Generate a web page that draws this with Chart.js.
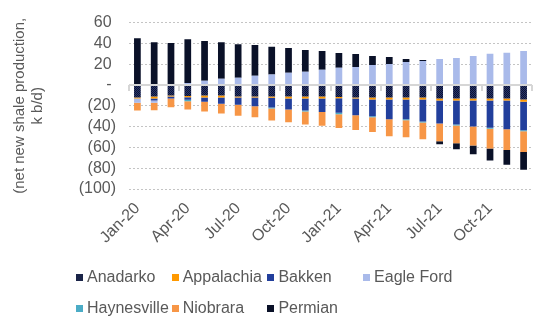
<!DOCTYPE html>
<html>
<head>
<meta charset="utf-8">
<script src="https://cdn.jsdelivr.net/npm/chart.js@4.4.1/dist/chart.umd.min.js"></script>
<style>
  body { margin: 0; background: #fff; }
  #wrap { position: relative; width: 556px; height: 334px; }
  #legend { position: absolute; left: 0; top: 0; font: 16px "Liberation Sans", Arial, sans-serif; color: #595959; }
  .item { position: absolute; display: flex; align-items: center; white-space: nowrap; height: 20px; }
  .box { width: 7px; height: 7px; margin-right: 4px; }
</style>
</head>
<body>
<div id="wrap">
  <canvas id="shaleChart" width="556" height="334"></canvas>
  <div id="legend"></div>
</div>
<script>
const months = ['Jan-20', 'Feb-20', 'Mar-20', 'Apr-20', 'May-20', 'Jun-20', 'Jul-20', 'Aug-20', 'Sep-20', 'Oct-20', 'Nov-20', 'Dec-20',
                'Jan-21', 'Feb-21', 'Mar-21', 'Apr-21', 'May-21', 'Jun-21', 'Jul-21', 'Aug-21', 'Sep-21', 'Oct-21', 'Nov-21', 'Dec-21'];

// net new shale production by basin, k b/d
const anadarko    = [-12, -11, -10, -10.5, -10, -10, -11, -11, -11, -11, -11, -11, -11.5, -12, -12, -12, -12, -12, -13, -13, -13, -13, -13, -14];
const appalachia  = [-1, -2, -1, -1.3, -2, -2, -1, -1, -1.2, -2, -2, -2, -1.3, -1, -2, -2, -2, -2, -2, -2, -2, -2, -2, -2];
const bakken      = [0, -2, -2, -2.5, -4, -6, -7, -8.5, -9.5, -10.5, -11.5, -13, -14, -16, -16, -19, -19, -21, -22, -23, -25, -26, -27.5, -27.5];
const eagleFord   = [-4, -2, 1, 2, 4, 6, 7, 9, 10, 11.7, 12.7, 14.6, 16.5, 17.4, 19.3, 20.3, 22.2, 23.1, 25, 26, 28, 30, 31, 32.7];
const haynesville = [0, 0, 0, -1.3, 0, 0, 0, 0, -1, 0, -1, 0, -1.3, 0, -1, 0, -1, -1, 0, -1, 0, -1, 0, -1];
const niobrara    = [-7.5, -7.3, -8.3, -8, -9.5, -9.5, -10.5, -10.5, -11.4, -12.4, -12.4, -13.3, -13.3, -14.3, -14.3, -16.2, -16.2, -16.2, -17.1, -17.1, -18.1, -19.1, -20, -20];
const permian     = [45, 41, 39.3, 42, 38.2, 35.2, 32.3, 29.5, 26.7, 23.8, 20.9, 18.1, 14.3, 12.4, 8.6, 6.7, 2.8, 1, -2.9, -5.7, -8.6, -11.4, -14.3, -17.1];

const yMin = -100, yMax = 60, yStep = 20;

// small checker fill for the Anadarko bars
function dotPattern() {
    const c = document.createElement('canvas');
    c.width = 2; c.height = 2;
    const g = c.getContext('2d');
    g.fillStyle = '#27346c';
    g.fillRect(0, 0, 2, 2);
    g.fillStyle = '#0c1330';
    g.fillRect(0, 0, 1, 1);
    g.fillRect(1, 1, 1, 1);
    return g.createPattern(c, 'repeat');
}

const series = [
    { label: 'Anadarko', data: anadarko, color: dotPattern(), swatch: '#1a2448' },
    { label: 'Appalachia', data: appalachia, color: '#ff9900' },
    { label: 'Bakken', data: bakken, color: '#223f9c' },
    { label: 'Eagle Ford', data: eagleFord, color: '#a9baea' },
    { label: 'Haynesville', data: haynesville, color: '#4bacc6' },
    { label: 'Niobrara', data: niobrara, color: '#f79646' },
    { label: 'Permian', data: permian, color: '#0a1128' }
];

// grey zero axis with a tick mark every quarter
const zeroAxis = {
    id: 'zeroAxis',
    afterDatasetsDraw(chart) {
        const { ctx, chartArea, scales: { x, y } } = chart;
        const y0 = Math.round(y.getPixelForValue(0));
        ctx.save();
        ctx.strokeStyle = '#d6d6d6';
        ctx.lineWidth = 2;
        ctx.beginPath();
        ctx.moveTo(chartArea.left, y0);
        ctx.lineTo(chartArea.right, y0);
        for (let k = 0; k <= months.length; k += 3) {
            const xb = Math.round(x.getPixelForValue(k - 0.5));
            ctx.moveTo(xb, y0);
            ctx.lineTo(xb, y0 + 6);
        }
        ctx.stroke();
        ctx.restore();
    }
};

const ctx = document.getElementById('shaleChart').getContext('2d');
const shaleChart = new Chart(ctx, {
    type: 'bar',
    data: {
        labels: months,
        datasets: series.map(s => ({
            label: s.label,
            data: s.data,
            backgroundColor: s.color,
            borderWidth: 0,
            barPercentage: 0.4,
            categoryPercentage: 1,
            stack: 'basins'
        }))
    },
    options: {
        responsive: false,
        animation: false,
        layout: { padding: { top: 22, right: 24, bottom: 0, left: 0 } },
        plugins: {
            legend: { display: false },
            tooltip: { enabled: false }
        },
        scales: {
            x: {
                stacked: true,
                grid: { display: false },
                border: { display: false },
                ticks: {
                    autoSkip: false,
                    minRotation: 45,
                    maxRotation: 45,
                    padding: 2,
                    color: '#595959',
                    font: { family: '"Liberation Sans", Arial, sans-serif', size: 16 },
                    callback: (v, i) => (i % 3 === 0 ? months[i] : '')
                },
                afterFit: s => { s.height = 145; }
            },
            y: {
                stacked: true,
                min: yMin,
                max: yMax,
                grid: {
                    drawTicks: false,
                    lineWidth: 1,
                    color: c => (c.tick.value === 0 ? 'rgba(0,0,0,0)' : '#c4c4c4')
                },
                border: { display: false, dash: [2, 2] },
                ticks: {
                    stepSize: yStep,
                    autoSkip: false,
                    padding: 13,
                    color: '#595959',
                    font: { family: '"Liberation Sans", Arial, sans-serif', size: 16 },
                    callback: v => (v > 0 ? v + ' ' : v === 0 ? '- ' : '(' + Math.abs(v) + ')')
                },
                title: {
                    display: true,
                    text: ['(net new shale production,', 'k b/d)'],
                    color: '#595959',
                    font: { family: '"Liberation Sans", Arial, sans-serif', size: 15, lineHeight: 1.2 },
                    padding: { top: 11 }
                },
                afterFit: s => { s.width = 129; }
            }
        }
    },
    plugins: [zeroAxis]
});

// legend laid out in four columns like the original workbook chart
const legend = document.getElementById('legend');
series.forEach((s, i) => {
    const item = document.createElement('div');
    item.className = 'item';
    item.style.left = (76 + (i % 4) * 95.7) + 'px';
    item.style.top = (Math.floor(i / 4) === 0 ? 267 : 298) + 'px';
    const box = document.createElement('span');
    box.className = 'box';
    box.style.background = s.swatch || s.color;
    item.appendChild(box);
    item.appendChild(document.createTextNode(s.label));
    legend.appendChild(item);
});
</script>
</body>
</html>
